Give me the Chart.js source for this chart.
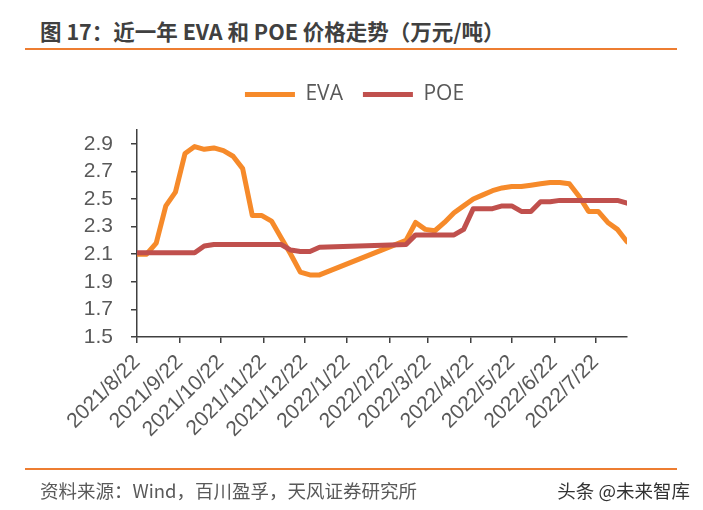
<!DOCTYPE html>
<html lang="zh-CN">
<head>
  <meta charset="UTF-8">
  <title>近一年 EVA 和 POE 价格走势</title>
  <style>
    body {
      margin: 0;
      width: 703px;
      height: 510px;
      position: relative;
      overflow: hidden;
      background: #fff;
      font-family: "Noto Sans CJK SC", sans-serif;
    }
    #title {
      position: absolute;
      left: 40px;
      top: 16px;
      font-size: 21.5px;
      font-weight: bold;
      color: #404040;
      line-height: 30px;
      white-space: nowrap;
    }
    .rule {
      position: absolute;
      left: 25px;
      width: 652px;
      height: 2px;
      background: #ED7D31;
    }
    #source {
      position: absolute;
      left: 40px;
      top: 477px;
      font-size: 18.5px;
      line-height: 26px;
      color: #595959;
      white-space: nowrap;
    }
    #mark {
      position: absolute;
      right: 13px;
      top: 477px;
      font-size: 18.5px;
      line-height: 26px;
      color: #333;
      white-space: nowrap;
    }
    #box {
      position: absolute;
      left: 0;
      top: 0;
      width: 703px;
      height: 510px;
    }
  </style>
</head>
<body>
  <div id="title">图 17：近一年 EVA 和 POE 价格走势（万元/吨）</div>
  <div class="rule" style="top:48px"></div>
  <div id="box"><canvas id="chart"></canvas></div>
  <div class="rule" style="top:468px"></div>
  <div id="source">资料来源：Wind，百川盈孚，天风证券研究所</div>
  <div id="mark">头条 @未来智库</div>

  <script src="https://cdn.jsdelivr.net/npm/chart.js"></script>
  <script>
    // 周度数据（2022/1/2 到 2022/3/6 之间无数据，直接连线）
    const dates = [
      "2021/8/22", "2021/8/29", "2021/9/5", "2021/9/12", "2021/9/19", "2021/9/26",
      "2021/10/3", "2021/10/10", "2021/10/17", "2021/10/24", "2021/10/31",
      "2021/11/7", "2021/11/14", "2021/11/21", "2021/11/28",
      "2021/12/5", "2021/12/12", "2021/12/19", "2021/12/26", "2022/1/2",
      "2022/3/6", "2022/3/13", "2022/3/20", "2022/3/27",
      "2022/4/3", "2022/4/10", "2022/4/17", "2022/4/24",
      "2022/5/1", "2022/5/8", "2022/5/15", "2022/5/22", "2022/5/29",
      "2022/6/5", "2022/6/12", "2022/6/19", "2022/6/26",
      "2022/7/3", "2022/7/10", "2022/7/17", "2022/7/24", "2022/7/31",
      "2022/8/7", "2022/8/14"
    ];
    const evaValues = [
      2.10, 2.10, 2.18, 2.45, 2.55, 2.83,
      2.88, 2.86, 2.87, 2.85, 2.81,
      2.72, 2.38, 2.38, 2.34,
      2.22, 2.10, 1.97, 1.95, 1.95,
      2.20, 2.33, 2.28, 2.27,
      2.33, 2.40, 2.45, 2.50,
      2.53, 2.56, 2.58, 2.59, 2.59,
      2.60, 2.61, 2.62, 2.62,
      2.61, 2.52, 2.41, 2.41, 2.33,
      2.28, 2.19
    ];
    const poeValues = [
      2.11, 2.11, 2.11, 2.11, 2.11, 2.11,
      2.11, 2.16, 2.17, 2.17, 2.17,
      2.17, 2.17, 2.17, 2.17,
      2.17, 2.13, 2.12, 2.12, 2.15,
      2.17, 2.24, 2.24, 2.24,
      2.24, 2.24, 2.28, 2.43,
      2.43, 2.43, 2.45, 2.45, 2.41,
      2.41, 2.48, 2.48, 2.49,
      2.49, 2.49, 2.49, 2.49, 2.49,
      2.49, 2.47
    ];
    const xTickDates = [
      "2021/8/22", "2021/9/22", "2021/10/22", "2021/11/22", "2021/12/22", "2022/1/22",
      "2022/2/22", "2022/3/22", "2022/4/22", "2022/5/22", "2022/6/22", "2022/7/22"
    ];
    const yTicks = [1.5, 1.7, 1.9, 2.1, 2.3, 2.5, 2.7, 2.9];

    // 日期 -> 距 2021/8/22 的天数
    const base = Date.UTC(2021, 7, 22);
    function dayOf(s) {
      const [y, m, d] = s.split("/").map(Number);
      return (Date.UTC(y, m - 1, d) - base) / 86400000;
    }
    function labelOf(day) {
      const t = new Date(base + day * 86400000);
      return t.getUTCFullYear() + "/" + (t.getUTCMonth() + 1) + "/" + t.getUTCDate();
    }

    const axisColor = "#404040";
    const textColor = "#595959";

    new Chart(document.getElementById("chart"), {
      type: "line",
      data: {
        datasets: [{
          label: "EVA",
          data: dates.map((d, i) => ({ x: dayOf(d), y: evaValues[i] })),
          borderColor: "#F68A2A",
          backgroundColor: "#F68A2A",
          pointBorderColor: "#F68A2A",
          pointBorderWidth: 5,
          order: 1
        }, {
          label: "POE",
          data: dates.map((d, i) => ({ x: dayOf(d), y: poeValues[i] })),
          borderColor: "#C0504D",
          backgroundColor: "#C0504D",
          pointBorderColor: "#C0504D",
          pointBorderWidth: 5,
          order: 0
        }]
      },
      options: {
        responsive: true,
        maintainAspectRatio: false,
        animation: false,
        elements: {
          point: { radius: 0 },
          line: { borderWidth: 5, tension: 0, borderJoinStyle: "round", borderCapStyle: "round" }
        },
        layout: { padding: { top: 64, left: 82, right: 76, bottom: 0 } },
        plugins: {
          tooltip: { enabled: false },
          legend: {
            position: "top",
            labels: {
              usePointStyle: true,
              pointStyle: "line",
              pointStyleWidth: 50,
              padding: 20,
              color: textColor,
              font: { family: "'Open Sans', sans-serif", size: 21 },
              sort: (a, b) => a.datasetIndex - b.datasetIndex
            }
          },
          // 图例与绘图区之间的留白
          subtitle: {
            display: true,
            text: "",
            weight: 500,
            padding: 0,
            font: { size: 15, lineHeight: 1 }
          }
        },
        scales: {
          x: {
            type: "linear",
            min: dayOf(dates[0]),
            max: dayOf(dates[dates.length - 1]),
            afterBuildTicks: s => { s.ticks = xTickDates.map(d => ({ value: dayOf(d) })); },
            afterFit: s => { s.height = 173; },
            border: { display: true, color: axisColor, width: 1.5 },
            grid: { drawOnChartArea: false, drawTicks: true, tickLength: 6, color: axisColor, lineWidth: 1.5 },
            ticks: {
              minRotation: 45,
              maxRotation: 45,
              autoSkip: false,
              padding: 7,
              color: textColor,
              font: { family: "'Liberation Sans', Arial, sans-serif", size: 21 },
              callback: v => labelOf(v)
            }
          },
          y: {
            min: 1.5,
            max: 3.0,
            afterBuildTicks: s => { s.ticks = yTicks.map(v => ({ value: v })); },
            afterFit: s => { s.width = 55; },
            border: { display: true, color: axisColor, width: 1.5 },
            grid: { drawOnChartArea: false, drawTicks: true, tickLength: 6, color: axisColor, lineWidth: 1.5 },
            ticks: {
              padding: 18,
              color: textColor,
              font: { family: "'Liberation Sans', Arial, sans-serif", size: 21 },
              callback: v => v.toFixed(1)
            }
          }
        }
      }
    });
  </script>
</body>
</html>
